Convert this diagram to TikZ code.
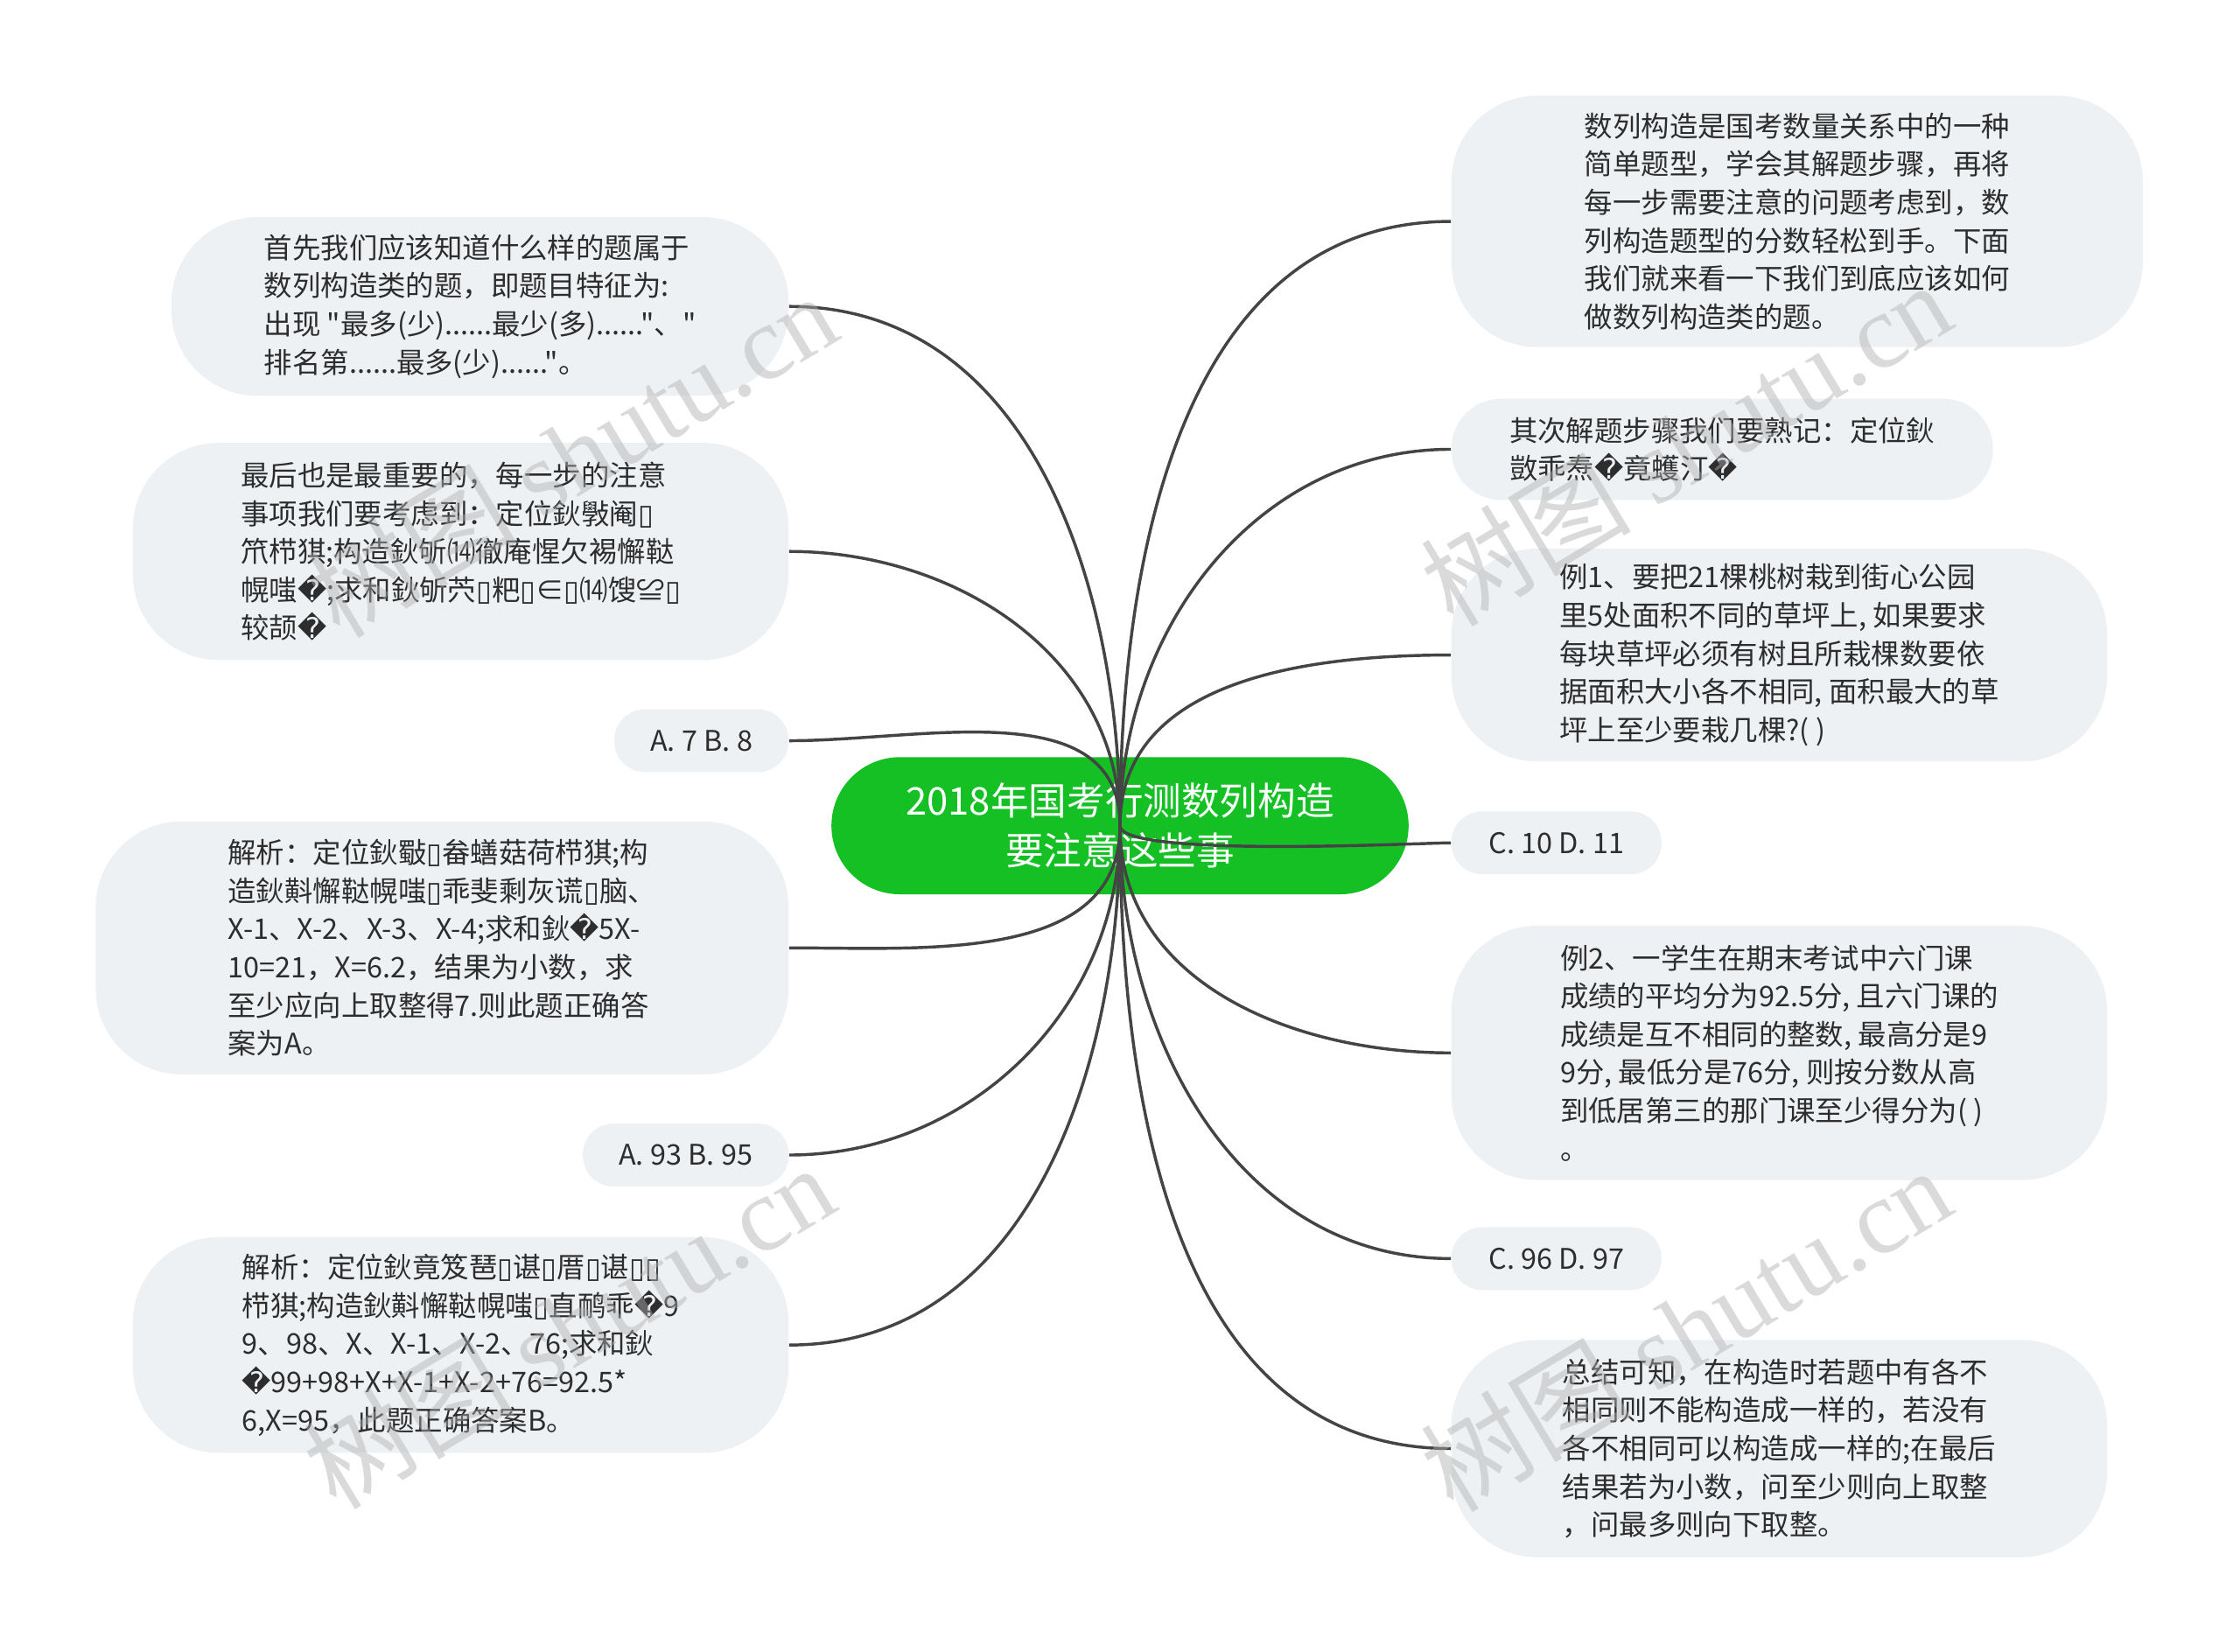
\documentclass[tikz,border=0pt]{standalone}
\usepackage{fontspec}
\newfontfamily\cjk{Noto Sans CJK SC}
\newfontfamily\symf{DejaVu Sans}
\newfontfamily\wmlatin{Liberation Serif}
\newcommand\badch{{\symf\char"FFFD}}
\newcommand\tofu{{\symf\char"25AF}}
\definecolor{rootgreen}{RGB}{20,192,36}
\definecolor{boxgray}{RGB}{238,241,244}
\definecolor{linkgray}{RGB}{68,68,68}
\definecolor{textgray}{RGB}{45,45,45}
\definecolor{markgray}{RGB}{175,175,175}
\begin{document}
\begin{tikzpicture}[x=0.2mm,y=-0.2mm,
    hub/.style={fill=rootgreen, text=white, rounded corners=9.6mm, align=center, inner sep=0pt, font=\cjk\fontsize{15.2}{19.9}\selectfont},
    leaf/.style={fill=boxgray, text=textgray, rounded corners=12mm, align=left, inner sep=0pt, font=\cjk\fontsize{11.3}{15.2}\selectfont},
    tag/.style={leaf, rounded corners=4.3mm, minimum width=#1, minimum height=8.8mm},
    branch/.style={draw=linkgray, line width=1.2pt},
    wmark/.style={text=markgray, opacity=0.45, rotate=31, font=\cjk\fontsize{42}{42}\selectfont}]
    \useasboundingbox (0,0) rectangle (1568,1156);
    \fill[white] (0,0) rectangle (1568,1156);
    % center
    \node[hub, minimum width=80.8mm, minimum height=19.2mm] (root) at (784,578) {2018年国考行测数列构造\\要注意这些事};
    % left side
    \node[leaf, minimum width=86.4mm, minimum height=25mm] (first) at (336,214.5)
        {首先我们应该知道什么样的题属于\\数列构造类的题，即题目特征为:\\出现 "最多(少)......最少(多)......"、"\\排名第......最多(少)......"。};
    \node[leaf, minimum width=91.8mm, minimum height=30.4mm] (last) at (322.5,386)
        {最后也是最重要的，每一步的注意\\事项我们要考虑到：定位鈥斅阉\tofu{}\\笊栉猉;构造鈥斪⒁徹庵惺欠裼懈鞑\\幌嗤\badch{};求和鈥斪茓\tofu{}粑\tofu{}∈\tofu{}⒁馊≌\tofu{}\\较颉\badch};
    \node[tag=24.4mm] (optab) at (491,518.5) {A. 7 B. 8};
    \node[leaf, minimum width=97mm, minimum height=35.4mm] (solone) at (309.5,663.5)
        {解析：定位鈥斀\tofu{}畚蟮菇荷栉猉;构\\造鈥斢懈鞑幌嗤\tofu{}乖斐剩灰谎\tofu{}脑、\\X-1、X-2、X-3、X-4;求和鈥\badch{}5X-\\10=21，X=6.2，结果为小数，求\\至少应向上取整得7.则此题正确答\\案为A。};
    \node[tag=28.8mm] (opcd) at (480,808.5) {A. 93 B. 95};
    \node[leaf, minimum width=91.8mm, minimum height=30.2mm] (soltwo) at (322.5,941.5)
        {解析：定位鈥竟笈琶\tofu{}谌\tofu{}厝\tofu{}谌\tofu{}\tofu{}\\栉猉;构造鈥斢懈鞑幌嗤\tofu{}直鸸乖\badch{}9\\9、98、X、X-1、X-2、76;求和鈥\\\badch{}99+98+X+X-1+X-2+76=92.5*\\6,X=95，此题正确答案B。};
    % right side
    \node[leaf, minimum width=96.8mm, minimum height=35.2mm] (intro) at (1258,155)
        {数列构造是国考数量关系中的一种\\简单题型，学会其解题步骤，再将\\每一步需要注意的问题考虑到，数\\列构造题型的分数轻松到手。下面\\我们就来看一下我们到底应该如何\\做数列构造类的题。};
    \node[leaf, rounded corners=7mm, minimum width=75.8mm, minimum height=14.2mm] (steps) at (1205.5,314.5)
        {其次解题步骤我们要熟记：定位鈥\\敳乖焘\badch{}竟蠖汀\badch};
    \node[leaf, minimum width=91.8mm, minimum height=29.8mm] (exone) at (1245.5,458.5)
        {例1、要把21棵桃树栽到街心公园\\里5处面积不同的草坪上, 如果要求\\每块草坪必须有树且所栽棵数要依\\据面积大小各不相同, 面积最大的草\\坪上至少要栽几棵?( )};
    \node[tag=29.4mm] (optcd) at (1089.5,590) {C. 10 D. 11};
    \node[leaf, minimum width=91.8mm, minimum height=35.6mm] (extwo) at (1245.5,737)
        {例2、一学生在期末考试中六门课\\成绩的平均分为92.5分, 且六门课的\\成绩是互不相同的整数, 最高分是9\\9分, 最低分是76分, 则按分数从高\\到低居第三的那门课至少得分为( )\\。};
    \node[tag=29.4mm] (optef) at (1089.5,881) {C. 96 D. 97};
    \node[leaf, minimum width=91.8mm, minimum height=30.4mm] (summary) at (1245.5,1014)
        {总结可知，在构造时若题中有各不\\相同则不能构造成一样的，若没有\\各不相同可以构造成一样的;在最后\\结果若为小数，问至少则向上取整\\，问最多则向下取整。};
    % connectors
    \draw[branch] (root.center) to[out=90,in=0] (first.east);
    \draw[branch] (root.center) to[out=90,in=0] (last.east);
    \draw[branch] (root.center) to[out=90,in=0] (optab.east);
    \draw[branch] (root.center) to[out=-90,in=0] (solone.east);
    \draw[branch] (root.center) to[out=-90,in=0] (opcd.east);
    \draw[branch] (root.center) to[out=-90,in=0] (soltwo.east);
    \draw[branch] (root.center) to[out=90,in=180] (intro.west);
    \draw[branch] (root.center) to[out=90,in=180] (steps.west);
    \draw[branch] (root.center) to[out=90,in=180] (exone.west);
    \draw[branch] (root.center) to[out=-90,in=180,looseness=0.25] (optcd.west);
    \draw[branch] (root.center) to[out=-90,in=180] (extwo.west);
    \draw[branch] (root.center) to[out=-90,in=180] (optef.west);
    \draw[branch] (root.center) to[out=-90,in=180] (summary.west);
    % watermarks
    \node[wmark] (wmone) at (400,318) {树图 {\wmlatin shutu.cn}};
    \node[wmark] (wmtwo) at (1180,310) {树图 {\wmlatin shutu.cn}};
    \node[wmark] (wmthree) at (398,928) {树图 {\wmlatin shutu.cn}};
    \node[wmark] (wmfour) at (1180,930) {树图 {\wmlatin shutu.cn}};
\end{tikzpicture}
\end{document}
